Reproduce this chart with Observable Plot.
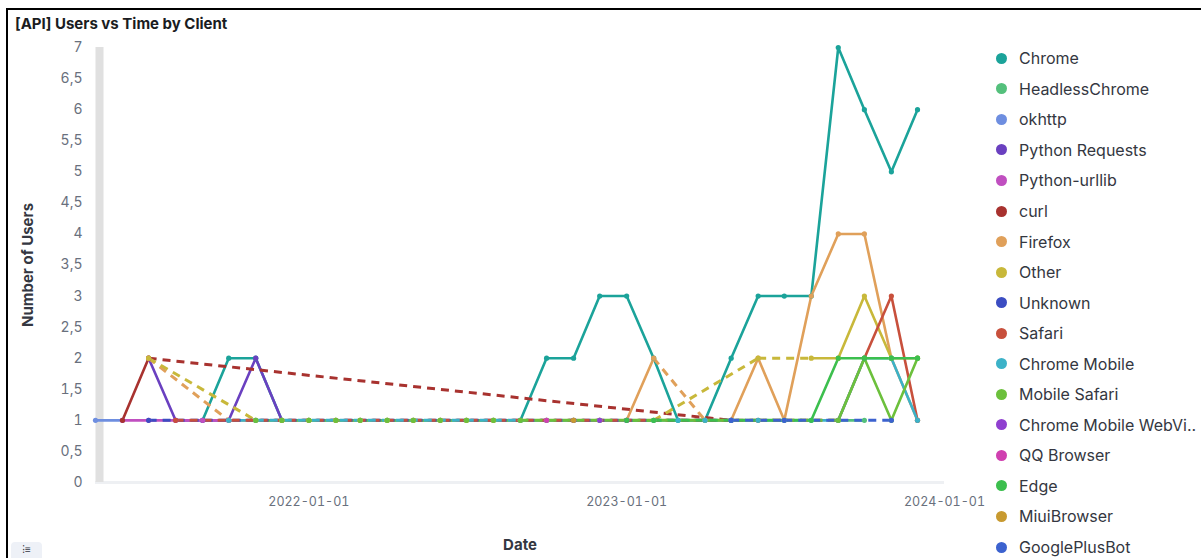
<!DOCTYPE html>
<html>
<head>
<meta charset="utf-8">
<script src="https://cdn.jsdelivr.net/npm/d3@7"></script>
<script src="https://cdn.jsdelivr.net/npm/@observablehq/plot@0.6"></script>
<style>
  html, body { margin: 0; padding: 0; background: #fff; overflow: hidden; }
  body { width: 1201px; height: 558px; position: relative; font-family: Inter, "Noto Sans", sans-serif; }
  #frame { position: absolute; left: 6px; top: 8px; width: 1210px; height: 600px; border: 2px solid #000; box-sizing: border-box; }
  #title { position: absolute; left: 15px; top: 14px; font-size: 15px; font-weight: 700; color: #1a1c21; }
  #chart { position: absolute; left: 0; top: 0; }
  #ylabel { position: absolute; left: 27px; top: 265px; transform: translate(-50%, -50%) rotate(-90deg); font-size: 15px; font-weight: 700; color: #343741; white-space: nowrap; }
  #xlabel { position: absolute; left: 520px; top: 544px; transform: translate(-50%, -50%); font-size: 15px; font-weight: 700; color: #343741; }
  #legend { position: absolute; left: 996px; top: 43px; }
  .item { height: 30.56px; display: flex; align-items: center; font-size: 16px; color: #343741; white-space: nowrap; }
  .sw { width: 11px; height: 11px; border-radius: 50%; margin-right: 12px; flex: none; }
  #btn { position: absolute; left: 11px; top: 542px; width: 31px; height: 20px; background: #eef1f7; border-radius: 4px; font-size: 10px; color: #343741; text-align: center; line-height: 14px; }
</style>
</head>
<body>
<div id="frame"></div>
<div id="title">[API] Users vs Time by Client</div>
<div id="chart"></div>
<div id="ylabel">Number of Users</div>
<div id="xlabel">Date</div>
<div id="legend"></div>
<div id="btn">⁝≡</div>
<script>
const months = ["2021-05-01","2021-06-01","2021-07-01","2021-08-01","2021-09-01","2021-10-01","2021-11-01","2021-12-01",
  "2022-01-01","2022-02-01","2022-03-01","2022-04-01","2022-05-01","2022-06-01","2022-07-01","2022-08-01",
  "2022-09-01","2022-10-01","2022-11-01","2022-12-01","2023-01-01","2023-02-01","2023-03-01","2023-04-01",
  "2023-05-01","2023-06-01","2023-07-01","2023-08-01","2023-09-01","2023-10-01","2023-11-01","2023-12-01"];

const clients = ["Chrome","HeadlessChrome","okhttp","Python Requests","Python-urllib","curl","Firefox","Other","Unknown","Safari","Chrome Mobile","Mobile Safari","Chrome Mobile WebView","QQ Browser","Edge","MiuiBrowser","GooglePlusBot"];
const colors = ["#1ba39a","#54c07c","#6e8ee0","#6a40c0","#c04fc0","#a8322f","#e0a05a","#c8b83a","#3b4dc2","#c8503c","#3cb2c8","#6cc03c","#9040d0","#d040b0","#3cbf4e","#c89a30","#3c62cf"];

const n = null;
const chrome         = [n,n,n,n,1,2,2,1, 1,1,1,1,1,1,1,1, 1,2,2,3,3,2,1,1, 2,3,3,3,7,6,5,6];
const headlessChrome = [n,n,n,n,n,n,n,n, n,n,n,n,n,n,n,n, n,n,n,n,n,n,n,n, n,n,n,n,1,1,n,n];
const okhttp         = [1,1,n,n,n,n,n,n, n,n,n,n,n,n,n,n, n,n,n,n,n,n,n,n, n,n,n,n,n,n,n,n];
const pythonRequests = [n,n,2,1,1,1,2,1, n,n,n,n,n,n,n,n, n,n,n,n,n,n,n,n, n,n,n,n,n,n,n,n];
const pythonUrllib   = [n,1,1,1,1,1,n,n, n,n,n,n,n,n,n,n, n,n,n,n,n,n,n,n, n,n,n,n,n,n,n,n];
const curl           = [n,1,2,n,n,n,n,n, n,n,n,n,n,n,n,n, n,n,n,n,n,n,n,n, 1,n,n,n,n,n,n,n];
const firefox        = [n,n,2,n,n,1,1,1, 1,1,1,1,1,1,1,1, 1,1,1,1,1,2,n,1, 1,2,1,3,4,4,2,1];
const other          = [n,n,2,n,n,n,1,1, 1,1,1,1,1,1,1,1, 1,1,1,1,1,1,n,n, n,2,n,2,2,3,2,2];
const unknown        = [n,n,1,n,n,n,n,n, n,n,n,n,n,n,n,n, n,n,n,n,n,n,n,n, 1,n,n,n,n,n,n,n];
const safari         = [n,n,n,1,n,n,n,n, n,n,n,n,n,n,n,n, n,n,n,n,n,n,n,n, n,1,n,n,1,2,3,1];
const chromeMobile   = [n,n,n,n,n,1,1,n, n,n,n,n,n,n,n,n, 1,1,1,1,1,1,1,1, 1,1,1,1,1,2,2,1];
const mobileSafari   = [n,n,n,n,n,n,1,1, 1,1,1,1,1,1,1,1, 1,n,n,n,n,n,n,n, n,n,n,n,1,2,1,2];
const chromeWebView  = [n,n,n,n,n,n,n,n, n,n,n,n,n,n,n,n, n,n,1,1,1,n,n,n, n,n,n,n,n,n,n,n];
const qqBrowser      = [n,n,n,n,n,n,n,n, n,n,n,n,n,n,n,n, n,1,n,n,n,n,n,n, n,n,n,n,n,n,n,n];
const edge           = [n,n,n,n,n,n,n,n, n,n,n,n,n,n,n,n, n,n,n,n,1,1,n,n, n,n,n,1,2,2,2,2];
const miuiBrowser    = [n,n,n,n,n,n,n,n, n,n,n,n,n,n,n,n, n,n,1,n,n,n,n,n, n,n,n,n,n,n,n,n];
const googlePlusBot  = [n,n,n,n,n,n,n,n, n,n,n,n,n,n,n,n, n,n,n,n,n,n,n,n, 1,n,1,n,n,n,1,n];

const yTicks = [0,0.5,1,1.5,2,2.5,3,3.5,4,4.5,5,5.5,6,6.5,7];
const xTicks = ["2022-01-01","2023-01-01","2024-01-01"];
const xDomain = ["2021-05-01","2024-01-01"];

const seriesValues = [chrome, headlessChrome, okhttp, pythonRequests, pythonUrllib, curl, firefox, other, unknown, safari, chromeMobile, mobileSafari, chromeWebView, qqBrowser, edge, miuiBrowser, googlePlusBot];

const parse = d3.utcParse("%Y-%m-%d");
const rows = [];
const gaps = [];
clients.forEach((c, i) => {
  const vals = seriesValues[i];
  let prev = -1;
  vals.forEach((v, j) => {
    rows.push({client: c, date: parse(months[j]), value: v});
    if (v != null) {
      if (prev >= 0 && j - prev > 1) {
        gaps.push({client: c, d1: parse(months[prev]), v1: vals[prev], d2: parse(months[j]), v2: v});
      }
      prev = j;
    }
  });
});
const pts = rows.filter(d => d.value != null);

const chart = Plot.plot({
  width: 995,
  height: 558,
  marginLeft: 95,
  marginRight: 51,
  marginTop: 47,
  marginBottom: 76,
  style: {fontFamily: "Inter, 'Noto Sans', sans-serif", fontSize: "14px", color: "#69707d", background: "transparent"},
  x: {type: "utc", domain: xDomain.map(parse)},
  y: {domain: [0, 7]},
  color: {domain: clients, range: colors},
  marks: [
    Plot.ruleY([0], {stroke: "#eef0f3", strokeWidth: 3}),
    Plot.ruleX([parse(xDomain[0])], {y1: 0, y2: 7, stroke: "#e0e0e0", strokeWidth: 8, dx: 4}),
    Plot.axisX({ticks: xTicks.map(parse), tickFormat: d3.utcFormat("%Y-%m-%d"), tickSize: 0, tickPadding: 15, label: null, fontSize: 12.5}),
    Plot.axisY({ticks: yTicks, tickFormat: d => String(d).replace(".", ","), tickSize: 0, tickPadding: 13, label: null, fontSize: 14}),
    Plot.line(rows, {x: "date", y: "value", z: "client", stroke: "client", strokeWidth: 2.6, curve: "linear"}),
    Plot.link(gaps, {x1: "d1", y1: "v1", x2: "d2", y2: "v2", stroke: "client", strokeWidth: 3, strokeDasharray: "8,6"}),
    Plot.dot(pts, {x: "date", y: "value", fill: "client", r: 2.6})
  ]
});
document.getElementById("chart").appendChild(chart);

const legend = document.getElementById("legend");
clients.forEach((c, i) => {
  const item = document.createElement("div");
  item.className = "item";
  const sw = document.createElement("span");
  sw.className = "sw";
  sw.style.background = colors[i];
  const label = document.createElement("span");
  label.textContent = c.length > 20 ? c.slice(0, 19) + ".." : c;
  item.appendChild(sw);
  item.appendChild(label);
  legend.appendChild(item);
});
</script>
</body>
</html>
